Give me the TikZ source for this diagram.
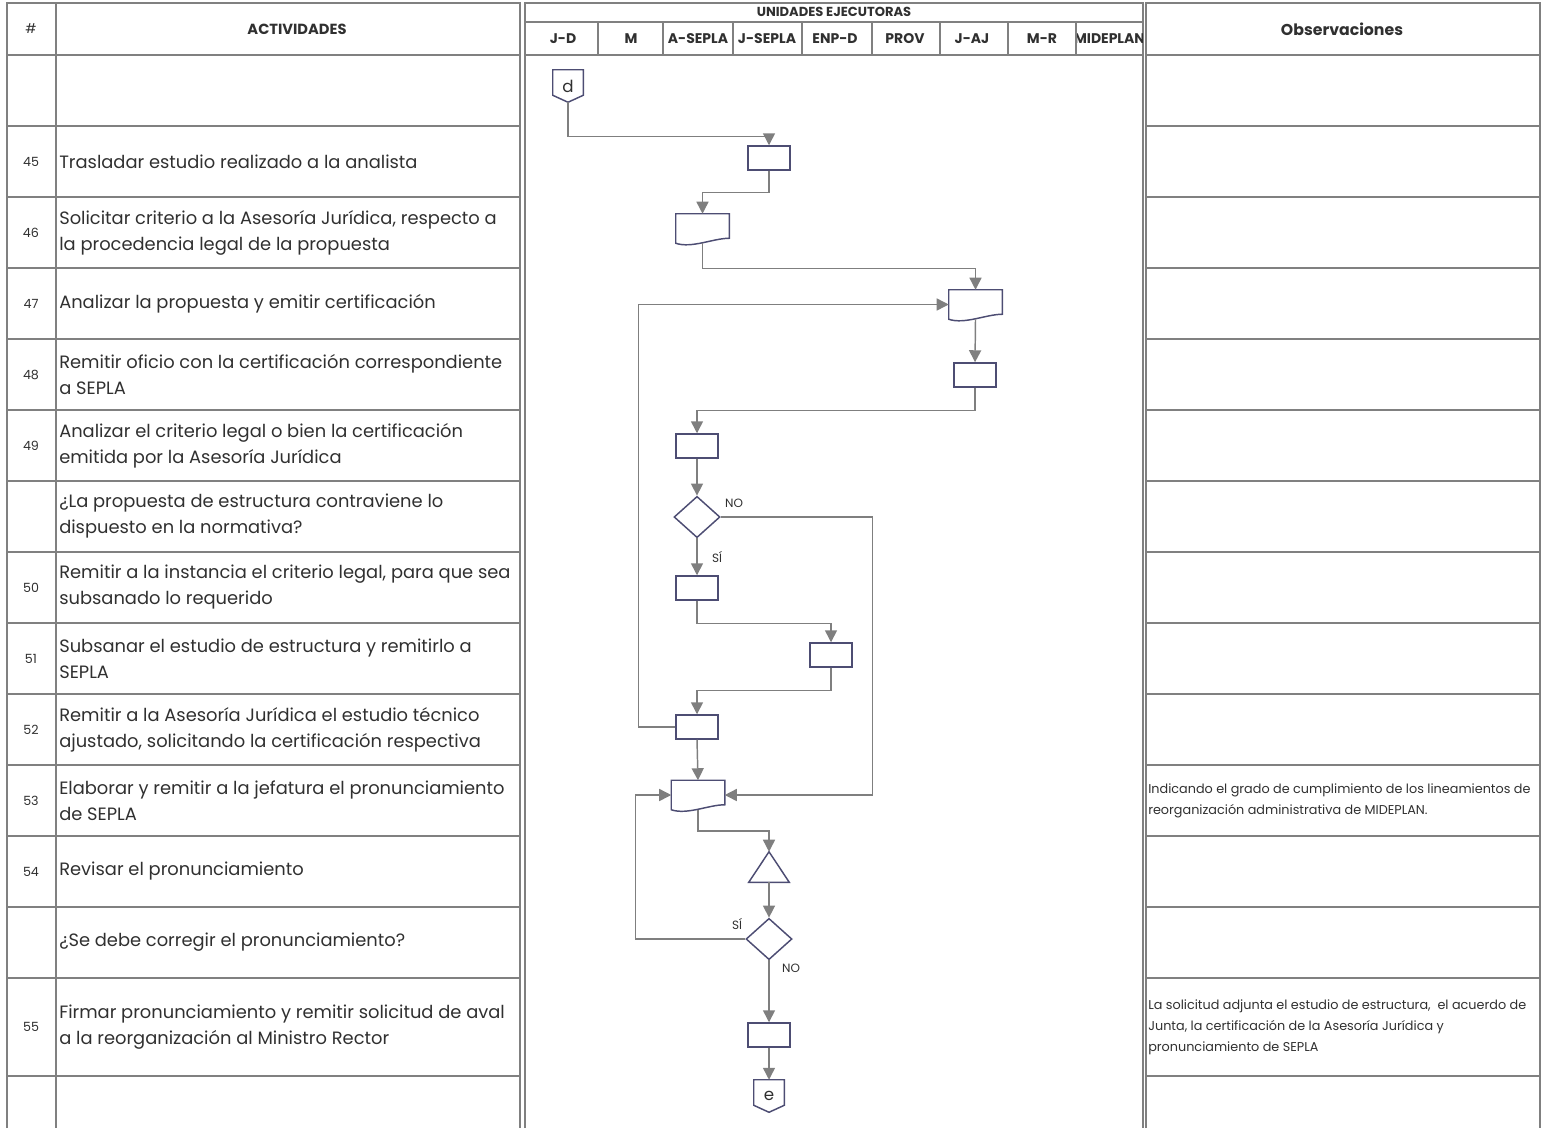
\documentclass[tikz,border=0pt]{standalone}
\usepackage{fontspec}
\setmainfont{Poppins}
\usetikzlibrary{arrows.meta,shapes.geometric}

\definecolor{gridgray}{HTML}{808080}
\definecolor{flowgray}{HTML}{7F7F7F}
\definecolor{shapeblue}{HTML}{4D4D73}
\definecolor{textgray}{HTML}{303030}

% outlines for the shapes that TikZ has no node shape for
\newcommand{\docoutline}[1]{%
  \draw[shapeline] (#1.north west) -- (#1.south west)
    .. controls +(12pt,-4pt) and +(-12pt,0pt) .. ([yshift=3.75pt]#1.south east)
    -- (#1.north east) -- cycle;}
\newcommand{\pageoutline}[1]{%
  \draw[shapeline] (#1.north west) -- (#1.north east)
    -- ([yshift=5.25pt]#1.south east) -- (#1.south)
    -- ([yshift=5.25pt]#1.south west) -- cycle;}
\newcommand{\trioutline}[1]{%
  \draw[shapeline] (#1.south west) -- (#1.north) -- (#1.south east) -- cycle;}

\begin{document}
\begin{tikzpicture}[
  x=0.75pt, y=-0.75pt,
  text=textgray,
  grid/.style = {draw=gridgray, line width=1.8pt},
  flow/.style = {
    draw=flowgray,
    line width=1.1pt,
    -{Triangle[length=9pt,width=9pt]}
  },
  shapeline/.style = {draw=shapeblue, line width=1.1pt},
  act/.style = {
    draw=shapeblue,
    line width=1.1pt,
    fill=white,
    minimum width=31.5pt,
    minimum height=18pt,
    inner sep=0
  },
  docu/.style = {minimum width=39.75pt, minimum height=21.75pt, inner sep=0},
  offpage/.style = {
    minimum width=22.5pt,
    minimum height=24pt,
    inner sep=0,
    font=\fontsize{12.5}{14}\selectfont
  },
  merge/.style = {minimum width=30pt, minimum height=22.5pt, inner sep=0},
  decision/.style = {
    diamond,
    draw=shapeblue,
    line width=1.1pt,
    minimum width=34.5pt,
    minimum height=31pt,
    inner sep=0
  },
  acttext/.style = {
    anchor=west,
    align=left,
    inner sep=0,
    font=\fontsize{13.4}{19.5}\selectfont
  },
  obstext/.style = {
    anchor=west,
    align=left,
    inner sep=0,
    font=\fontsize{9.6}{15.75}\selectfont
  },
  nrtext/.style = {font=\fontsize{9.5}{11}\selectfont},
  headtext/.style = {font=\bfseries\fontsize{10.5}{12}\selectfont},
  flowlabel/.style = {font=\fontsize{9}{10}\selectfont, inner sep=0},
]
  \useasboundingbox (0,0) rectangle (1544,1128);

  % table frames
  \draw[grid] (7,1128) -- (7,3) -- (520,3) -- (520,1128);
  \draw[grid] (56,3) -- (56,1128);
  \draw[grid] (525,1128) -- (525,3) -- (1143,3) -- (1143,1128);
  \draw[grid] (525,22) -- (1143,22);
  \draw[grid] (1146,1128) -- (1146,3) -- (1540,3) -- (1540,1128);
  \foreach \y in {55,126,197,268,339,410,481,552,623,694,765,836,907,978,1076} {
    \draw[grid] (7,\y) -- (520,\y);
    \draw[grid] (1146,\y) -- (1540,\y);
  }
  \draw[grid] (525,55) -- (1143,55);
  \foreach \x in {598,663,733,802,872,940,1008,1076} {
    \draw[grid] (\x,22) -- (\x,55);
  }

  % header
  \node (hnr)[nrtext, font=\fontsize{10}{11}\selectfont] at (31,29) {\#};
  \node (hact)[headtext, font=\bfseries\fontsize{11}{12}\selectfont] at (297,29) {ACTIVIDADES};
  \node (hunits)[headtext, font=\bfseries\fontsize{9.8}{11}\selectfont] at (834,12) {UNIDADES EJECUTORAS};
  \node (hobs)[headtext, font=\bfseries\fontsize{11.8}{13}\selectfont] at (1342,29) {Observaciones};
  \foreach \xc/\lbl [count=\i] in {563/J-D, 631/M, 698/A-SEPLA, 767/J-SEPLA,
      835/ENP-D, 905/PROV, 972/J-AJ, 1042/M-R} {
    \node (unit\i)[headtext] at (\xc,39) {\lbl};
  }
  \begin{scope}
    \clip (1077,22) rectangle (1142,55);
    \node (unit9)[headtext] at (1109.5,39) {MIDEPLAN};
  \end{scope}

  % activities
  \foreach \yc/\nr/\txt [count=\i] in {
      161.5/45/{Trasladar estudio realizado a la analista},
      232.5/46/{Solicitar criterio a la Asesoría Jurídica, respecto a\\la procedencia legal de la propuesta},
      303.5/47/{Analizar la propuesta y emitir certificación},
      374.5/48/{Remitir oficio con la certificación correspondiente\\a SEPLA},
      445.5/49/{Analizar el criterio legal o bien la certificación\\emitida por la Asesoría Jurídica},
      516.5//{¿La propuesta de estructura contraviene lo\\dispuesto en la normativa?},
      587.5/50/{Remitir a la instancia el criterio legal, para que sea\\subsanado lo requerido},
      658.5/51/{Subsanar el estudio de estructura y remitirlo a\\SEPLA},
      729.5/52/{Remitir a la Asesoría Jurídica el estudio técnico\\ajustado, solicitando la certificación respectiva},
      800.5/53/{Elaborar y remitir a la jefatura el pronunciamiento\\de SEPLA},
      871.5/54/{Revisar el pronunciamiento},
      942.5//{¿Se debe corregir el pronunciamiento?},
      1027/55/{Firmar pronunciamiento y remitir solicitud de aval\\a la reorganización al Ministro Rector}} {
    \node (nr\i)[nrtext] at (31,\yc) {\nr};
    \node (task\i)[acttext] at (59,\yc) {\txt};
  }

  % observations
  \node (obs53)[obstext] at (1148,801) {Indicando el grado de cumplimiento de los lineamientos de\\reorganización administrativa de MIDEPLAN.};
  \node (obs55)[obstext] at (1148,1027) {La solicitud adjunta el estudio de estructura,\ \ el acuerdo de\\Junta, la certificación de la Asesoría Jurídica y\\pronunciamiento de SEPLA};

  % flow shapes
  \node (pgd)[offpage] at (568,86) {d};
  \node (b45)[act] at (769,158) {};
  \node (doc46)[docu] at (702.5,228.5) {};
  \node (doc47)[docu] at (975.5,304.5) {};
  \node (b48)[act] at (975,375) {};
  \node (b49)[act] at (697,446) {};
  \node (dec1)[decision] at (697,517) {};
  \node (b50)[act] at (697,588) {};
  \node (b51)[act] at (831,655) {};
  \node (b52)[act] at (697,727) {};
  \node (doc53)[docu] at (698,795) {};
  \node (tri54)[merge] at (769,867) {};
  \node (dec2)[decision] at (769,939) {};
  \node (b55)[act] at (769,1035) {};
  \node (pge)[offpage] at (769,1096) {e};

  \pageoutline{pgd}
  \pageoutline{pge}
  \docoutline{doc46}
  \docoutline{doc47}
  \docoutline{doc53}
  \trioutline{tri54}

  % connectors
  \draw[flow] (pgd.south) -- ++(0,34) -| (b45.north);
  \draw[flow] (b45.south) -- ++(0,22) -| (doc46.north);
  \draw[flow] (doc46.south) -- ++(0,25) -| (doc47.north);
  \draw[flow] (doc47.south) -- (b48.north);
  \draw[flow] (b48.south) -- ++(0,23) -| (b49.north);
  \draw[flow] (b49.south) -- (dec1.north);
  \draw[flow] (dec1.east) -- ++(152,0) |- (doc53.east);
  \draw[flow] (dec1.south) -- (b50.north);
  \draw[flow] (b50.south) -- ++(0,23) -| (b51.north);
  \draw[flow] (b51.south) -- ++(0,23) -| (b52.north);
  \draw[flow] (b52.west) -- ++(-37,0) |- (doc47.west);
  \draw[flow] (b52.south) -- (doc53.north);
  \draw[flow] (doc53.south) -- ++(0,21) -| (tri54.north);
  \draw[flow] (tri54.south) -- (dec2.north);
  \draw[flow] (dec2.west) -- ++(-110,0) |- (doc53.west);
  \draw[flow] (dec2.south) -- (b55.north);
  \draw[flow] (b55.south) -- (pge.north);

  \node (no1)[flowlabel] at (734,503) {NO};
  \node (si1)[flowlabel] at (717,557) {SÍ};
  \node (si2)[flowlabel] at (737,924) {SÍ};
  \node (no2)[flowlabel] at (791,968) {NO};
\end{tikzpicture}
\end{document}
